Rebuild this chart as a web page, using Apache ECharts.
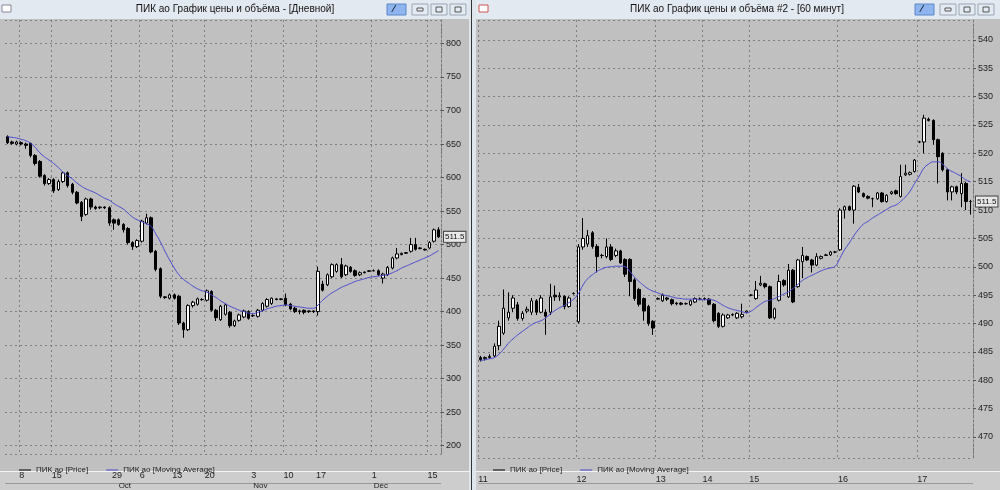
<!DOCTYPE html>
<html><head><meta charset="utf-8">
<script src="https://cdn.jsdelivr.net/npm/echarts@6/dist/echarts.min.js"></script>
<style>html,body{margin:0;padding:0;background:#c0c0c0;}#c{width:1000px;height:490px;}</style>
</head><body><div id="c"></div>
<script>
// ---- LEFT (daily) ----
const leftCandles = [
[661,652,650,663],[653,651,649,655],[650,653,648,655],[652,650,648,654],[650,648,643,652],
[651,633,630,652],[633,621,618,635],[624,602,600,626],[603,591,588,605],[591,597,589,599],
[597,580,577,599],[582,594,580,597],[594,607,592,609],[607,588,585,609],[590,578,575,592],
[578,562,560,580],[563,542,535,565],[545,568,543,570],[568,556,552,570],[556,554,552,558],
[555,556,553,557],[556,555,553,557],[555,532,528,557],[537,532,522,539],[537,530,528,539],
[530,522,518,532],[524,503,500,526],[503,497,492,505],[497,506,495,508],[505,535,503,537],
[532,540,530,546],[540,489,487,542],[490,463,460,492],[464,423,420,466],[422,421,419,423],
[420,425,418,427],[425,420,418,427],[423,383,380,425],[383,373,361,385],[373,409,371,411],
[409,414,406,416],[411,419,409,421],[418,418,416,420],[417,431,415,433],[430,402,400,432],
[402,391,386,404],[388,408,386,410],[396,410,394,412],[399,379,376,401],[379,386,377,388],
[387,395,385,397],[392,401,390,403],[400,390,388,402],[394,394,392,396],[393,402,391,404],
[402,412,400,414],[408,418,406,420],[412,420,410,421],[419,418,417,420],[418,419,417,420],
[420,410,408,427],[411,404,402,413],[405,400,398,407],[400,401,396,403],[402,399,396,403],
[400,401,398,402],[401,400,398,402],[400,460,394,467],[441,432,430,446],[440,455,438,457],
[452,470,450,472],[460,470,458,472],[470,452,450,480],[455,468,453,470],[466,460,458,468],
[461,454,452,463],[455,458,453,460],[458,459,457,460],[460,461,459,462],[461,461,460,463],
[461,455,453,463],[450,456,442,458],[455,466,453,468],[465,480,463,482],[480,486,478,495],
[485,487,484,488],[487,488,486,489],[490,500,488,510],[500,493,491,510],[494,495,493,496],
[493,492,491,494],[495,503,493,505],[505,522,503,524],[522,511.5,510,526]
];
const leftMA = [661,660,659,657,655,651,645,637,631,626,621,615,608,603,598,592,587,583,580,577,
573,569,566,561,557,553,547,541,537,534,531,527,516,504,490,477,465,455,448,443,
438,434,431,429,425,421,416,412,408,405,402,400,398,397,399,401,404,406,408,409,
410,409,408,407,406,405,405,410,417,423,428,432,436,439,442,445,447,449,451,452,
453,454,455,458,461,465,468,471,474,477,480,483,487,491];
const leftTickIdx = [3,10,23,29,36,43,53,60,67,79,91];
const leftTickText = ['8','15','29','6','13','20','3','10','17','1','15'];
const leftMonthIdx = [24,53,79];
const leftMonthText = ['Oct','Nov','Dec'];

// ---- RIGHT (60 min) ----
const rightCandles = [
[484.0,483.6,483.3,484.3],[483.8,484.0,483.5,484.2],[484.0,484.2,483.8,484.6],[484.3,486.0,484.0,486.5],
[486.1,489.5,485.3,490.5],[488.3,492.7,488.0,496.0],[491.0,492.0,490.5,495.5],[492.7,494.5,492.0,495.0],
[493.3,490.9,490.5,493.8],[490.9,491.8,490.5,492.2],[492.2,492.5,491.8,493.0],[492.0,494.0,491.5,494.5],
[494.0,492.0,491.5,494.3],[492.0,494.5,491.8,495.0],[492.0,491.3,488.0,492.5],[492.0,494.7,491.5,497.0],
[495.0,494.7,494.0,496.7],[494.7,494.9,494.0,495.5],[494.8,493.0,492.5,495.0],[493.0,494.5,492.8,494.8],
[495.3,495.3,495.1,495.5],
[490.3,503.5,490.0,504.0],[503.5,505.0,503.0,508.6],[504.0,505.5,503.5,506.5],[506.0,503.6,503.2,506.3],
[503.6,501.8,499.0,504.0],[502.0,502.0,501.5,502.3],[501.8,503.5,501.5,505.0],[503.5,501.3,501.0,504.0],
[502.0,502.8,501.7,503.2],[502.8,500.7,500.5,503.0],[501.3,498.7,498.2,501.5],[501.3,497.4,494.8,501.5],
[497.7,494.4,494.0,498.0],[496.0,493.4,493.0,496.3],[494.4,492.2,490.5,494.6],[493.0,490.0,489.6,493.3],
[490.4,489.2,488.0,490.6],
[494.3,494.4,494.2,494.6],[494.0,495.0,493.8,495.3],[494.5,494.3,494.0,494.7],[494.2,493.5,493.2,494.4],
[493.6,493.5,493.2,493.8],[493.6,493.4,493.2,493.8],[493.5,493.5,493.3,493.7],[493.3,494.0,493.1,494.2],
[493.8,494.4,493.6,494.6],[494.3,494.3,494.1,494.6],
[494.3,494.4,494.1,494.6],[494.3,493.4,493.2,494.5],[493.4,490.5,490.2,493.6],[491.8,489.5,489.2,492.0],
[489.5,491.5,489.3,491.8],[491.0,491.5,490.8,491.7],[491.5,491.6,491.3,491.8],[491.0,491.8,490.8,492.0],
[491.2,491.6,490.9,493.5],[492.0,492.2,491.8,492.3],
[495.0,495.0,494.8,495.2],[494.4,495.9,494.2,497.5],[496.8,497.1,496.6,498.4],[497.0,496.5,496.2,497.2],
[496.5,491.0,490.8,496.7],[491.0,492.6,490.7,492.8],[494.1,497.4,493.9,498.6],[497.6,496.8,496.5,497.8],
[494.7,499.4,494.5,500.5],[499.4,493.8,493.6,499.6],[496.5,501.2,496.3,501.4],[500.9,502.0,498.0,503.5],
[501.8,501.2,501.0,502.0],[501.2,500.3,499.0,501.4],[500.3,501.8,500.1,502.4],[501.5,501.8,501.3,502.0],
[502.0,502.1,501.9,502.3],[502.1,502.6,501.9,502.8],[502.6,502.6,502.4,502.8],
[503.0,510.0,502.8,510.3],[510.0,510.6,508.5,510.8],[510.6,510.0,509.8,510.8],[510.0,514.2,507.6,514.4],
[514.0,513.2,513.0,514.6],[512.9,512.4,512.2,513.1],[512.4,512.1,511.9,512.6],[512.0,512.0,510.5,512.2],
[512.0,513.0,511.8,513.2],[513.0,511.5,511.3,513.2],[511.5,512.6,511.3,512.8],[512.9,513.2,512.7,513.4],
[513.4,512.9,512.7,513.6],[512.4,515.9,512.2,518.0],[516.2,516.5,516.0,518.0],[516.3,516.6,516.1,516.8],
[516.8,518.8,516.6,519.0],
[522.0,522.0,521.8,522.2],[522.0,526.2,520.0,526.8],[526.0,525.8,525.6,526.3],[525.8,522.4,521.5,526.0],
[522.4,519.4,514.7,522.6],[520.0,517.1,516.8,520.2],[517.1,513.2,511.7,517.3],[513.2,514.1,511.7,514.3],
[514.1,513.2,512.8,514.3],[512.9,514.7,510.5,516.5],[514.7,511.5,510.0,515.0],[511.5,511.5,509.2,511.8]
];
const rightMA = [483.5,483.6,483.8,484.0,484.6,485.5,486.5,487.3,488.0,488.6,489.2,489.8,490.2,490.5,491.0,
491.7,492.3,492.8,493.2,493.7,494.3,495.3,496.8,497.9,498.6,499.2,499.6,499.9,500.0,500.1,500.1,500.0,
499.2,498.2,497.4,496.7,496.1,495.7,495.4,495.1,494.9,494.7,494.5,494.4,494.3,494.3,494.3,494.2,494.2,
494.2,494.1,493.7,493.2,492.8,492.5,492.3,492.1,491.9,492.2,492.8,493.4,493.9,494.1,494.4,494.8,495.2,
495.6,496.2,496.9,497.6,498.1,498.5,498.9,499.3,499.6,499.8,500.1,501.5,503.0,504.2,505.5,506.6,507.5,
508.0,508.6,509.1,509.6,510.1,510.6,510.9,511.5,512.3,513.3,514.7,516.0,517.4,518.1,518.5,518.5,518.1,
517.3,516.8,516.4,515.9,515.3,515.0];
const rightDayStart = [0,21,38,48,58,77,94];
const rightDayText = ['11','12','13','14','15','16','17'];
const lastPrice = 511.5;

const PRICE = 'ПИК ао [Price]', MAV = 'ПИК ао [Moving Average]';
const leftCats = leftCandles.map((d,i)=>'L'+i);
const rightCats = rightCandles.map((d,i)=>'R'+i);
const lTick = new Map(leftTickIdx.map((v,i)=>[v,leftTickText[i]]));
const lMon = new Map(leftMonthIdx.map((v,i)=>[v,leftMonthText[i]]));
const rTick = new Map(rightDayStart.map((v,i)=>[v,rightDayText[i]]));
const F = 'Liberation Sans';
const grid = 'rgba(110,110,110,0.8)';

function xMain(gi, cats, map){
  return {type:'category',gridIndex:gi,data:cats,boundaryGap:true,
    axisLine:{show:false},axisTick:{show:false},
    axisLabel:{interval:(i)=>map.has(i),formatter:(v,i)=>map.get(i)||'',margin:17,align:'left',
      color:'#222',fontSize:9,fontFamily:F,padding:[0,0,0,-2]},
    splitLine:{show:true,interval:(i)=>map.has(i),lineStyle:{color:grid,type:[2,3],width:1}}};
}
function yAx(gi,min,max,split){
  return {type:'value',gridIndex:gi,position:'right',min:min,max:max,splitNumber:split,scale:true,
    axisLine:{show:true,lineStyle:{color:'#777',type:[2,2]}},axisTick:{show:true,length:3,lineStyle:{color:'#555'}},
    axisLabel:{showMinLabel:false,showMaxLabel:false,color:'#222',fontSize:9,fontFamily:F,margin:5},
    splitLine:{show:true,lineStyle:{color:grid,type:[2,3],width:1}}};
}
const candleStyle = {color:'#ffffff',color0:'#000000',borderColor:'#000000',borderColor0:'#000000',borderWidth:1};
function lastMark(){
  return {symbol:['none','none'],silent:true,animation:false,
    lineStyle:{color:'rgba(0,0,0,0)',width:1,type:'solid'},
    label:{show:true,position:'end',formatter:String(lastPrice),color:'#111',fontSize:8,fontFamily:F,
      backgroundColor:'#e8e8e8',borderColor:'#444',borderWidth:1,padding:[1,1],distance:3},
    data:[{yAxis:lastPrice}]};
}

const titleFont = '10px "Liberation Sans"';
function btns(x0){
  return [
    {type:'rect',shape:{x:x0,y:4,width:19,height:11},style:{fill:'#8fb5ee',stroke:'#5a86c8'}},
    {type:'text',style:{x:x0+6,y:5,text:'⁄',font:'bold 9px "DejaVu Sans"',fill:'#123'}},
    {type:'rect',shape:{x:x0+25,y:4,width:16,height:11},style:{fill:'#e4eaf1',stroke:'#9aa6b4'}},
    {type:'rect',shape:{x:x0+30,y:8,width:6,height:3},style:{fill:'none',stroke:'#555'}},
    {type:'rect',shape:{x:x0+44,y:4,width:16,height:11},style:{fill:'#e4eaf1',stroke:'#9aa6b4'}},
    {type:'rect',shape:{x:x0+49,y:7,width:6,height:5},style:{fill:'none',stroke:'#555'}},
    {type:'rect',shape:{x:x0+63,y:4,width:16,height:11},style:{fill:'#e4eaf1',stroke:'#9aa6b4'}},
    {type:'rect',shape:{x:x0+68,y:7,width:6,height:5},style:{fill:'none',stroke:'#555'}}
  ];
}
const graphics = [
  {type:'rect',z:-10,shape:{x:0,y:0,width:1000,height:19},style:{fill:'#e3e9f0'}},
  {type:'rect',z:-10,shape:{x:469,y:0,width:7,height:490},style:{fill:'#dfe5ec'}},
  {type:'line',shape:{x1:471.5,y1:0,x2:471.5,y2:490},style:{stroke:'#333',lineWidth:1}},
  {type:'text',style:{x:235,y:4,text:'ПИК ао График цены и объёма - [Дневной]',font:titleFont,fill:'#111',textAlign:'center'}},
  {type:'text',style:{x:737,y:4,text:'ПИК ао График цены и объёма #2 - [60 минут]',font:titleFont,fill:'#111',textAlign:'center'}},
  {type:'rect',shape:{x:2,y:5,width:9,height:7},style:{fill:'#fff',stroke:'#889'}},
  {type:'rect',shape:{x:479,y:5,width:9,height:7},style:{fill:'#fff',stroke:'#c55'}},
  ...btns(387), ...btns(915),
  {type:'rect',z:-10,shape:{x:0,y:471,width:469,height:19},style:{fill:'#cdcdcd'}},
  {type:'rect',z:-10,shape:{x:476,y:471,width:524,height:19},style:{fill:'#cdcdcd'}},
  {type:'line',shape:{x1:0,y1:471.5,x2:469,y2:471.5},style:{stroke:'#f4f4f4'}},
  {type:'line',shape:{x1:476,y1:471.5,x2:1000,y2:471.5},style:{stroke:'#f4f4f4'}},
  {type:'line',shape:{x1:5,y1:483.5,x2:441,y2:483.5},style:{stroke:'#999'}},
  {type:'line',shape:{x1:478,y1:483.5,x2:973,y2:483.5},style:{stroke:'#999'}}
];
const legIcon = 'path://M0,0L12,0L12,1L0,1Z';
const legData = [{name:PRICE,itemStyle:{color:'#000',borderWidth:0}},{name:MAV,itemStyle:{color:'#4a4ad0',borderWidth:0}}];

const chart = echarts.init(document.getElementById('c'));
chart.setOption({
  backgroundColor:'#c0c0c0',
  animation:false,
  graphic:graphics,
  legend:[
    {left:14,top:461,itemWidth:12,itemHeight:1,itemGap:18,icon:legIcon,textStyle:{fontSize:8,fontFamily:F,color:'#222'},data:legData},
    {left:488,top:461,itemWidth:12,itemHeight:1,itemGap:18,icon:legIcon,textStyle:{fontSize:8,fontFamily:F,color:'#222'},data:legData}
  ],
  grid:[
    {left:5,right:559,top:20,bottom:32,show:false},
    {left:478,right:27,top:20,bottom:32,show:false}
  ],
  xAxis:[
    xMain(0,leftCats,lTick),
    xMain(1,rightCats,rTick),
    {type:'category',gridIndex:0,data:leftCats,boundaryGap:true,position:'bottom',
     axisLine:{show:false},axisTick:{show:false},splitLine:{show:false},
     axisLabel:{interval:(i)=>lMon.has(i),formatter:(v,i)=>lMon.get(i)||'',margin:28,align:'left',color:'#222',fontSize:8,fontFamily:F}}
  ],
  yAxis:[yAx(0,187.6,835,13),yAx(1,466.3,543.5,15)],
  series:[
    {name:PRICE,type:'candlestick',xAxisIndex:0,yAxisIndex:0,data:leftCandles,barWidth:3,itemStyle:candleStyle,markLine:lastMark()},
    {name:MAV,type:'line',xAxisIndex:0,yAxisIndex:0,data:leftMA,symbol:'none',smooth:true,lineStyle:{color:'#4a4ad0',width:1}},
    {name:PRICE,type:'candlestick',xAxisIndex:1,yAxisIndex:1,data:rightCandles,barWidth:3,itemStyle:candleStyle,markLine:lastMark()},
    {name:MAV,type:'line',xAxisIndex:1,yAxisIndex:1,data:rightMA,symbol:'none',smooth:true,lineStyle:{color:'#4a4ad0',width:1}}
  ]
});
</script></body></html>
